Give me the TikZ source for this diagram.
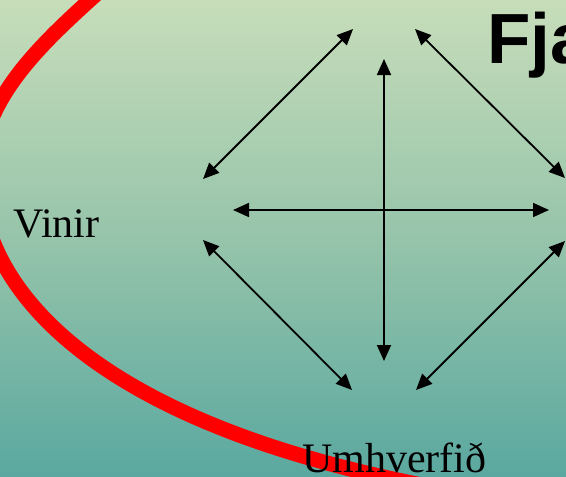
\documentclass[tikz,border=0pt]{standalone}
\usepackage{fontspec}
\setmainfont{Liberation Serif}
\newfontfamily\headfont{Liberation Sans}
\usetikzlibrary{arrows.meta}
\definecolor{bgtop}{RGB}{199,221,186}
\definecolor{bgmid}{RGB}{150,196,170}
\definecolor{bgbot}{RGB}{90,168,160}
\tikzset{
  linkarrow/.style={line width=1.8pt, {Triangle[length=16pt,width=14pt]}-{Triangle[length=16pt,width=14pt]}},
  serifbig/.style={inner sep=0pt, anchor=base west, font=\fontsize{42}{48}\selectfont},
  ringline/.style={red, line width=15pt},
}
\begin{document}
\begin{tikzpicture}[x=1pt,y=-1pt]
\useasboundingbox (0,0) rectangle (566,477);
\shade[top color=bgtop, bottom color=bgbot, middle color=bgmid] (0,0) rectangle (566,477);
\begin{scope}
\clip (0,0) rectangle (566,477);
\coordinate (rTop) at (112,-20);
\coordinate (rLeft) at (-20,175);
\coordinate (rEnd) at (460,492);
\draw[ringline] (rTop) .. controls (48,38) and (-20,95) .. (rLeft)
  .. controls (-20,292) and (100,430) .. (rEnd);
\node[inner sep=0pt, anchor=base west, font=\headfont\bfseries\fontsize{71}{80}\selectfont] (title) at (487,63) {Fja};
\end{scope}
\node[serifbig] (vinir) at (13,237) {Vinir};
\node[serifbig] (umh) at (302,472) {Umhverfið};
\coordinate (ulT) at (353,29);
\coordinate (ulB) at (203,179);
\coordinate (urT) at (415,29);
\coordinate (urB) at (565,178);
\coordinate (llT) at (203,240);
\coordinate (llB) at (352,390);
\coordinate (lrB) at (416,390);
\coordinate (lrT) at (565,241);
\coordinate (vT) at (384,59);
\coordinate (vB) at (384,361);
\coordinate (hL) at (233,210);
\coordinate (hR) at (549,210);
\draw[linkarrow] (ulT) -- (ulB);
\draw[linkarrow] (urT) -- (urB);
\draw[linkarrow] (llT) -- (llB);
\draw[linkarrow] (lrB) -- (lrT);
\draw[linkarrow] (vT) -- (vB);
\draw[linkarrow] (hL) -- (hR);
\end{tikzpicture}
\end{document}
